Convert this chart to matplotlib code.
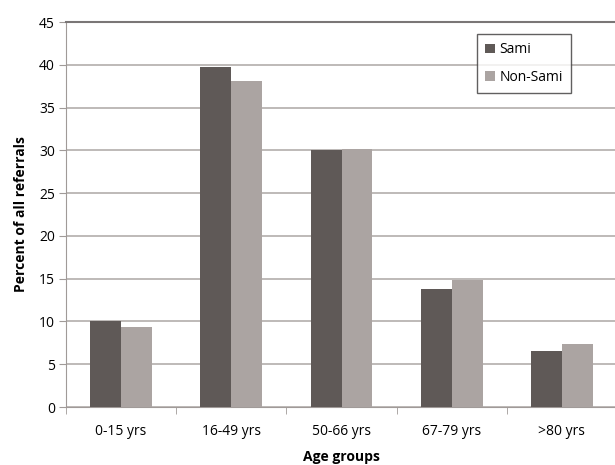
import matplotlib
matplotlib.use("Agg")
import matplotlib.pyplot as plt
import numpy as np

age_groups = ["0-15 yrs", "16-49 yrs", "50-66 yrs", "67-79 yrs", ">80 yrs"]
sami = [10.0, 39.7, 30.0, 13.8, 6.6]
non_sami = [9.4, 38.1, 30.2, 14.8, 7.4]

plt.rcParams["font.family"] = ["Open Sans", "DejaVu Sans"]

fig = plt.figure(figsize=(6.15, 4.65), dpi=100)
ax = fig.add_axes([66 / 615, 58 / 465, 551 / 615, 385 / 465])

x = np.arange(len(age_groups))
w = 0.28
ax.bar(x - w / 2, sami, w, color="#5f5957", label="Sami", zorder=3)
ax.bar(x + w / 2, non_sami, w, color="#aba4a2", label="Non-Sami", zorder=3)

ax.set_xlim(-0.5, len(age_groups) - 0.5)
ax.set_ylim(0, 45)
ax.set_yticks(range(0, 46, 5))
ax.yaxis.grid(True, color="#b3aeab", linewidth=1.2, zorder=0)
ax.set_axisbelow(True)

# category labels centred, ticks between categories
ax.set_xticks(x)
ax.set_xticklabels(age_groups, fontsize=10)
ax.set_xticks(np.arange(-0.5, len(age_groups), 1.0), minor=True)
ax.tick_params(axis="x", which="major", length=0, pad=12)
ax.tick_params(axis="x", which="minor", length=5, color="#a09a98")
ax.tick_params(axis="y", labelsize=10, length=5, color="#a09a98", pad=3)

ax.spines["right"].set_visible(False)
ax.spines["top"].set_color("#7a7676")
ax.spines["top"].set_linewidth(1.5)
ax.spines["left"].set_color("#a09a98")
ax.spines["bottom"].set_color("#a09a98")

ax.set_xlabel("Age groups", fontsize=10, fontweight="bold", labelpad=8)
ax.set_ylabel("Percent of all referrals", fontsize=10, fontweight="bold", labelpad=8)

leg = ax.legend(loc="upper left", bbox_to_anchor=(477 / 615, 1 - 34 / 465),
                bbox_transform=fig.transFigure, fontsize=10, frameon=True, fancybox=False,
                handlelength=0.7, handleheight=0.7, handletextpad=0.3,
                labelspacing=0.9, borderpad=0.6, borderaxespad=0, edgecolor="#3a3838")
leg.get_frame().set_linewidth(1.0)

fig.savefig("out.png", dpi=100)
